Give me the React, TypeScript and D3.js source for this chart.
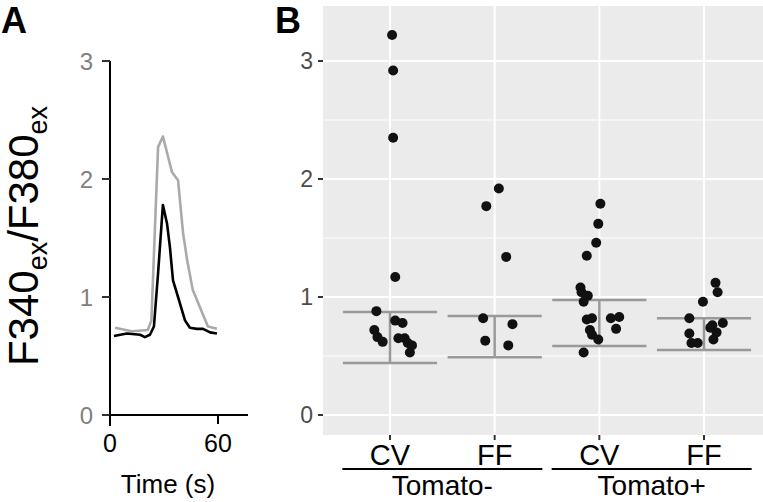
import React from "react";
import * as d3 from "d3";

// Panel A traces
const timeGray = [2.8, 12, 21, 23, 26.7, 29.4, 34.4, 37.8, 40.6, 43, 46, 54.4, 59.4];
const ratioGray = [0.74, 0.71, 0.72, 0.8, 2.27, 2.36, 2.06, 1.99, 1.54, 1.3, 1.06, 0.75, 0.73];
const timeBlack = [2.2, 9.4, 16.7, 19.4, 22.2, 24.4, 26.7, 29.4, 31.7, 33.3, 35, 37.8, 41.7, 44.4, 48.3, 51.7, 55.6, 59.4];
const ratioBlack = [0.67, 0.69, 0.68, 0.66, 0.68, 0.75, 1.2, 1.78, 1.62, 1.42, 1.14, 1.0, 0.8, 0.74, 0.73, 0.73, 0.7, 0.69];
const timeTicks = [0, 60];
const ratioTicks = [0, 1, 2, 3];

// Panel B
const categories = ["CV", "FF", "CV", "FF"];
const groupKeys = ["CV-", "FF-", "CV+", "FF+"];
const groups = ["Tomato-", "Tomato+"];
const cvMinus = [3.22, 2.92, 2.35, 1.17, 0.88, 0.80, 0.78, 0.72, 0.66, 0.62, 0.65, 0.65, 0.61, 0.59, 0.53];
const cvMinusJitter = [0.02, 0.03, 0.03, 0.05, -0.13, 0.05, 0.12, -0.15, -0.12, -0.07, 0.08, 0.14, 0.17, 0.21, 0.19];
const ffMinus = [1.92, 1.77, 1.34, 0.82, 0.77, 0.63, 0.59];
const ffMinusJitter = [0.04, -0.08, 0.11, -0.11, 0.17, -0.09, 0.13];
const cvPlus = [1.79, 1.62, 1.46, 1.35, 1.08, 1.04, 1.01, 0.96, 0.81, 0.82, 0.82, 0.83, 0.73, 0.72, 0.68, 0.64, 0.53];
const cvPlusJitter = [0.01, -0.01, -0.03, -0.12, -0.18, -0.17, -0.11, -0.15, -0.12, -0.07, 0.11, 0.19, 0.16, -0.09, -0.07, -0.01, -0.15];
const ffPlus = [1.12, 1.04, 0.96, 0.82, 0.78, 0.76, 0.70, 0.69, 0.64, 0.61, 0.61, 0.74];
const ffPlusJitter = [0.11, 0.13, -0.01, -0.14, 0.18, 0.08, 0.12, -0.14, 0.09, -0.12, -0.06, 0.06];
const barLower = [0.44, 0.49, 0.585, 0.55];
const barUpper = [0.873, 0.84, 0.975, 0.82];
const majorTicks = [0, 1, 2, 3];
const minorTicks = [0.5, 1.5, 2.5];

const FONT = "'Liberation Sans', Arial, Helvetica, sans-serif";

export default function App() {
  const W = 763, H = 502;
  // Panel A scales
  const xA = d3.scaleLinear().domain([0, 60]).range([110, 218]);
  const yA = d3.scaleLinear().domain([0, 3]).range([415, 61]);
  const lineA = d3.line<[number, number]>().x(d => xA(d[0])).y(d => yA(d[1]));
  const grayPts = timeGray.map((t, i) => [t, ratioGray[i]] as [number, number]);
  const blackPts = timeBlack.map((t, i) => [t, ratioBlack[i]] as [number, number]);

  // Panel B scales
  const xB = d3.scalePoint<string>().domain(groupKeys).range([390, 704]);
  const step = xB.step();
  const yB = d3.scaleLinear().domain([0, 3]).range([415, 61]);
  const panelLeft = xB(groupKeys[0])! - 0.64 * step;
  const panelRight = xB(groupKeys[3])! + 0.64 * step;
  const panelTop = 6;
  const panelBottom = 435;

  const series = [
    { v: cvMinus, j: cvMinusJitter },
    { v: ffMinus, j: ffMinusJitter },
    { v: cvPlus, j: cvPlusJitter },
    { v: ffPlus, j: ffPlusJitter },
  ];

  return (
    <svg width={W} height={H} style={{ position: "absolute", left: 0, top: 0, background: "#fff" }} fontFamily={FONT}>
      <rect x={0} y={0} width={W} height={H} fill="#fff" />
      {/* Panel labels */}
      <text x={1} y={33} fontSize={36} fontWeight="bold" fill="#000">A</text>
      <text x={275} y={33} fontSize={36} fontWeight="bold" fill="#000">B</text>

      {/* Panel A */}
      <text transform={`translate(38,236) rotate(-90)`} textAnchor="middle" fontSize={42} fill="#000">
        F340<tspan fontSize={27} dy={9}>ex</tspan><tspan dy={-9}>/F380</tspan><tspan fontSize={27} dy={9}>ex</tspan>
      </text>
      <line x1={110} x2={110} y1={yA(3)} y2={426} stroke="#000" strokeWidth={2} />
      <line x1={102} x2={248} y1={yA(0)} y2={yA(0)} stroke="#000" strokeWidth={2} />
      {ratioTicks.map(t => (
        <g key={"ra" + t}>
          <line x1={102} x2={110} y1={yA(t)} y2={yA(t)} stroke="#333" strokeWidth={2} />
          <text x={93} y={yA(t) + 8.5} textAnchor="end" fontSize={24} fill="#808080">{t}</text>
        </g>
      ))}
      {timeTicks.map(t => (
        <g key={"ta" + t}>
          <line x1={xA(t)} x2={xA(t)} y1={yA(0)} y2={424} stroke="#000" strokeWidth={2} />
          <text x={xA(t)} y={452} textAnchor="middle" fontSize={25} fill="#000">{t}</text>
        </g>
      ))}
      <text x={168} y={493} textAnchor="middle" fontSize={26} fill="#000">Time (s)</text>
      <path d={lineA(grayPts)!} fill="none" stroke="#aaaaaa" strokeWidth={2.6} strokeLinejoin="round" />
      <path d={lineA(blackPts)!} fill="none" stroke="#000" strokeWidth={2.6} strokeLinejoin="round" />

      {/* Panel B */}
      <defs>
        <clipPath id="pclip">
          <rect x={panelLeft} y={panelTop} width={panelRight - panelLeft} height={panelBottom - panelTop} />
        </clipPath>
      </defs>
      <rect x={panelLeft} y={panelTop} width={panelRight - panelLeft} height={panelBottom - panelTop} fill="#ebebeb" />
      <g clipPath="url(#pclip)">
        {minorTicks.map(t => (
          <line key={"mi" + t} x1={panelLeft} x2={panelRight} y1={yB(t)} y2={yB(t)} stroke="#fff" strokeWidth={1} />
        ))}
        {majorTicks.map(t => (
          <line key={"ma" + t} x1={panelLeft} x2={panelRight} y1={yB(t)} y2={yB(t)} stroke="#fff" strokeWidth={2} />
        ))}
        {groupKeys.map(k => (
          <line key={"gx" + k} x1={xB(k)!} x2={xB(k)!} y1={panelTop} y2={panelBottom} stroke="#fff" strokeWidth={2} />
        ))}
        {groupKeys.map((k, i) => {
          const cx = xB(k)!;
          const hw = 0.45 * step;
          return (
            <g key={"eb" + k} stroke="#999999" strokeWidth={2.5}>
              <line x1={cx - hw} x2={cx + hw} y1={yB(barUpper[i])} y2={yB(barUpper[i])} />
              <line x1={cx - hw} x2={cx + hw} y1={yB(barLower[i])} y2={yB(barLower[i])} />
              <line x1={cx} x2={cx} y1={yB(barUpper[i])} y2={yB(barLower[i])} />
            </g>
          );
        })}
        {series.map((s, gi) =>
          s.v.map((v, i) => (
            <circle key={`p${gi}-${i}`} cx={xB(groupKeys[gi])! + s.j[i] * step} cy={yB(v)} r={5} fill="#111" />
          ))
        )}
      </g>
      {majorTicks.map(t => (
        <g key={"yb" + t}>
          <line x1={panelLeft - 5} x2={panelLeft} y1={yB(t)} y2={yB(t)} stroke="#333" strokeWidth={2} />
          <text x={panelLeft - 10} y={yB(t) + 8} textAnchor="end" fontSize={23} fill="#4d4d4d">{t}</text>
        </g>
      ))}
      {groupKeys.map((k, i) => (
        <g key={"xb" + k}>
          <line x1={xB(k)!} x2={xB(k)!} y1={panelBottom} y2={panelBottom + 5} stroke="#333" strokeWidth={2} />
          <text x={xB(k)!} y={465} textAnchor="middle" fontSize={29} fill="#000">{categories[i]}</text>
        </g>
      ))}
      {groups.map((g, gi) => {
        const a = xB(groupKeys[gi * 2])!;
        const b = xB(groupKeys[gi * 2 + 1])!;
        const mid = (a + b) / 2;
        return (
          <g key={"grp" + g}>
            <line x1={mid - 100} x2={mid + 100} y1={469} y2={469} stroke="#000" strokeWidth={2} />
            <text x={mid} y={495} textAnchor="middle" fontSize={28} fill="#000">{g}</text>
          </g>
        );
      })}
    </svg>
  );
}
